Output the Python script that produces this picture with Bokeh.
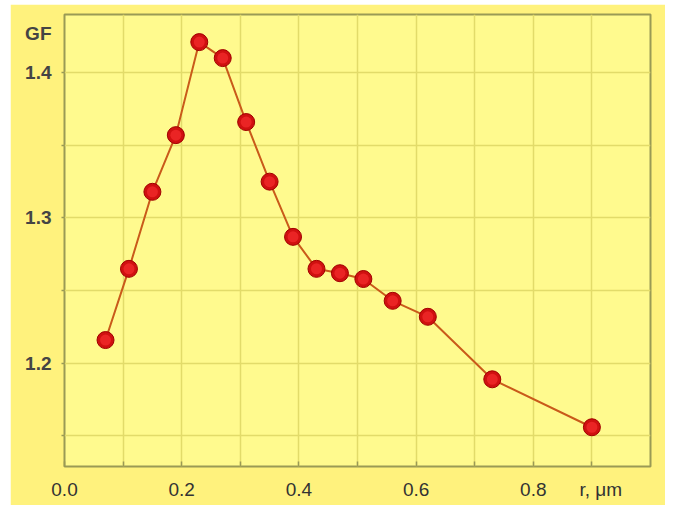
from bokeh.plotting import figure
from bokeh.models import FixedTicker, PrintfTickFormatter, Range1d, Spacer
from bokeh.layouts import row, column
from bokeh.embed import file_html
from bokeh.resources import INLINE

r_um = [0.07, 0.11, 0.15, 0.19, 0.23, 0.27, 0.31, 0.35, 0.39, 0.43, 0.47, 0.51, 0.56, 0.62, 0.73, 0.90]
gf = [1.216, 1.265, 1.318, 1.357, 1.421, 1.410, 1.366, 1.325, 1.287, 1.265, 1.262, 1.258, 1.243, 1.232, 1.189, 1.156]
x_ticks = [0.0, 0.2, 0.4, 0.6, 0.8]
x_minor = [0.1, 0.3, 0.5, 0.7, 0.9]
y_ticks = [1.2, 1.3, 1.4]
y_minor = [1.15, 1.25, 1.35]
x_title = "r, \u03bcm"
x_title_pos = 0.915
y_title = "GF"
y_title_pos = 1.427

FONT = "Liberation Sans"
OLIVE = "#9A9A55"

p = figure(width=655, height=501, x_range=Range1d(0, 1.0), y_range=Range1d(1.129, 1.44),
           output_backend="svg", toolbar_location=None,
           min_border_left=54, min_border_right=15, min_border_top=10, min_border_bottom=39)

p.border_fill_color = "#FFF27D"
p.background_fill_color = "#FFFA8E"
p.outline_line_color = OLIVE
p.outline_line_width = 2

# axes: titles sit in the tick-label rows, all tick marks drawn as minor ticks
p.xaxis.ticker = FixedTicker(ticks=x_ticks + [x_title_pos], minor_ticks=sorted(x_ticks + x_minor))
p.yaxis.ticker = FixedTicker(ticks=y_ticks + [y_title_pos], minor_ticks=sorted(y_ticks + y_minor))
p.xaxis.formatter = PrintfTickFormatter(format="%.1f")
p.yaxis.formatter = PrintfTickFormatter(format="%.1f")
p.xaxis.major_label_overrides = {x_title_pos: x_title}
p.yaxis.major_label_overrides = {y_title_pos: y_title}
for ax in (p.xaxis, p.yaxis):
    ax.axis_line_color = None
    ax.major_tick_line_color = None
    ax.minor_tick_line_color = OLIVE
    ax.minor_tick_line_width = 1.5
    ax.major_label_text_font = FONT
    ax.major_label_text_font_size = "19px"
p.yaxis.major_label_text_font_style = "bold"
p.yaxis.major_label_text_color = "#444444"
p.xaxis.major_label_text_color = "#333333"
p.xaxis.major_tick_in = 0
p.xaxis.major_tick_out = 0
p.xaxis.minor_tick_in = 5
p.xaxis.minor_tick_out = 0
p.xaxis.major_label_standoff = 12
p.yaxis.major_tick_in = 0
p.yaxis.major_tick_out = 0
p.yaxis.minor_tick_in = 0
p.yaxis.minor_tick_out = 3
p.yaxis.major_label_standoff = 10

# grids
GRID = "#E2DB6A"
p.xgrid.ticker = FixedTicker(ticks=x_ticks, minor_ticks=x_minor)
p.ygrid.ticker = FixedTicker(ticks=y_ticks, minor_ticks=y_minor)
for g in (p.xgrid, p.ygrid):
    g.grid_line_color = GRID
    g.minor_grid_line_color = GRID
    g.grid_line_width = 1.5
    g.minor_grid_line_width = 1.5

# data
p.line(r_um, gf, line_color="#C95A1A", line_width=2)
p.scatter(r_um, gf, size=17, fill_color="#D01010", line_color="#A00000", line_width=1)
p.scatter(r_um, gf, size=11, fill_color="#EA2424", line_color=None)

layout = row(Spacer(width=10), column(Spacer(height=4), p))
open("out.html", "w").write(file_html(layout, INLINE))
